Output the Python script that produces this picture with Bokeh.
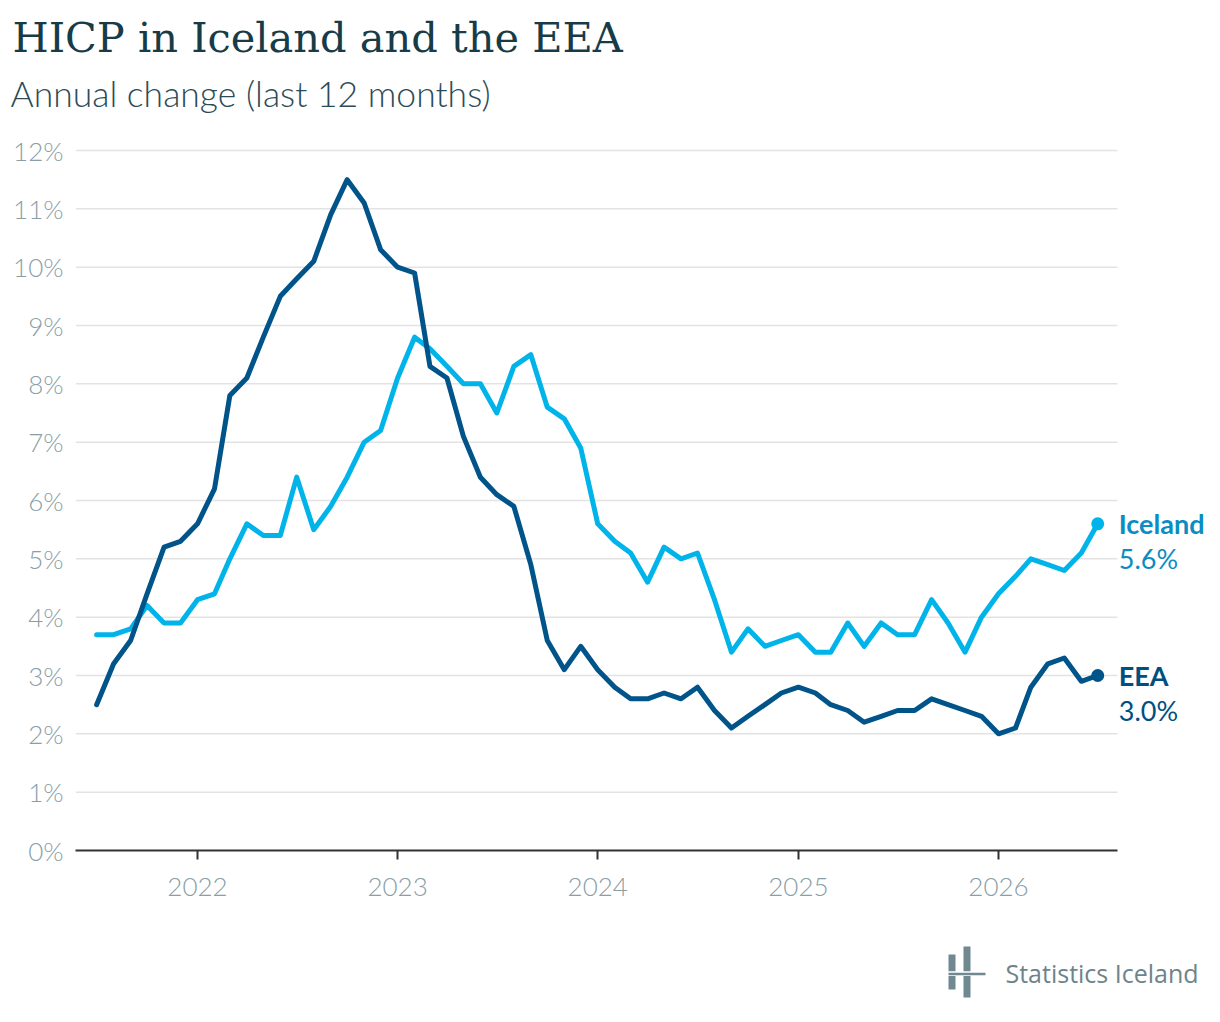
import pandas as pd
from bokeh.plotting import figure
from bokeh.layouts import column
from bokeh.models import Range1d, FixedTicker, DatetimeTickFormatter, PrintfTickFormatter
from bokeh.core.properties import value
from bokeh.embed import file_html
from bokeh.resources import INLINE

# monthly observations, July 2021 - July 2026
months = pd.date_range("2021-07-01", "2026-07-01", freq="MS")

iceland = [3.7, 3.7, 3.8, 4.2, 3.9, 3.9, 4.3, 4.4, 5.0, 5.6, 5.4, 5.4,
           6.4, 5.5, 5.9, 6.4, 7.0, 7.2, 8.1, 8.8, 8.6, 8.3, 8.0, 8.0,
           7.5, 8.3, 8.5, 7.6, 7.4, 6.9, 5.6, 5.3, 5.1, 4.6, 5.2, 5.0,
           5.1, 4.3, 3.4, 3.8, 3.5, 3.6, 3.7, 3.4, 3.4, 3.9, 3.5, 3.9,
           3.7, 3.7, 4.3, 3.9, 3.4, 4.0, 4.4, 4.7, 5.0, 4.9, 4.8, 5.1,
           5.6]

eea = [2.5, 3.2, 3.6, 4.4, 5.2, 5.3, 5.6, 6.2, 7.8, 8.1, 8.8, 9.5,
       9.8, 10.1, 10.9, 11.5, 11.1, 10.3, 10.0, 9.9, 8.3, 8.1, 7.1, 6.4,
       6.1, 5.9, 4.9, 3.6, 3.1, 3.5, 3.1, 2.8, 2.6, 2.6, 2.7, 2.6,
       2.8, 2.4, 2.1, 2.3, 2.5, 2.7, 2.8, 2.7, 2.5, 2.4, 2.2, 2.3,
       2.4, 2.4, 2.6, 2.5, 2.4, 2.3, 2.0, 2.1, 2.8, 3.2, 3.3, 2.9,
       3.0]

year_ticks = [2022, 2023, 2024, 2025, 2026]
pct_ticks = list(range(0, 13))

TITLE = "HICP in Iceland and the EEA"
SUBTITLE = "Annual change (last 12 months)"
SOURCE = "Statistics Iceland"

ICE = "#00b4ea"
ICE_TXT = "#0a8dc2"
EEA = "#00548a"
EEA_TXT = "#004f80"
TICK_TXT = "#8a9ea6"
GRID = "#e3e3e3"

W = 1218

# horizontal scale: 2022-01-01 sits at x=197, 801 px for 4 years
PX_PER_DAY = 801 / 1461
jan22 = pd.Timestamp("2022-01-01")
x_start = jan22 - pd.Timedelta(days=(197 - 75) / PX_PER_DAY)
x_end = jan22 + pd.Timedelta(days=(W - 197) / PX_PER_DAY)
grid_end = jan22 + pd.Timedelta(days=(1117 - 197) / PX_PER_DAY)


def blank(height, y0, y1):
    # a bare canvas whose data units are page pixels
    f = figure(width=W, height=height, x_range=Range1d(0, W), y_range=Range1d(y0, y1),
               x_axis_location=None, y_axis_location=None, title=None,
               toolbar_location=None, tools="", output_backend="svg",
               min_border=0, frame_align=False)
    f.grid.visible = False
    f.outline_line_color = None
    return f


# header
head = blank(120, 120, 0)
head.text(x=[12], y=[37], text=[TITLE], text_font=value("DejaVu Serif"),
          text_font_size="41.5px", text_color="#173c48", text_baseline="middle")
head.text(x=[10], y=[93], text=[SUBTITLE], text_font=value("Lato Light"),
          text_font_size="35.5px", text_color="#2b4b57", text_baseline="middle")

# main chart
p = figure(
    width=W, height=800,
    x_axis_type="datetime",
    x_range=Range1d(x_start, x_end),
    y_range=Range1d(0, 710 / 58.333),
    toolbar_location=None, tools="",
    output_backend="svg",
    min_border_left=75, min_border_right=0,
    min_border_top=20, min_border_bottom=70,
)
p.outline_line_color = None
p.grid.visible = False

p.segment(x0=[x_start] * len(pct_ticks), y0=pct_ticks,
          x1=[grid_end] * len(pct_ticks), y1=pct_ticks,
          line_color=GRID, line_width=1.5, level="underlay")

p.yaxis.ticker = FixedTicker(ticks=pct_ticks)
p.yaxis.formatter = PrintfTickFormatter(format="%d%%")
p.yaxis.axis_line_color = None
p.yaxis.major_tick_line_color = None
p.yaxis.major_tick_out = 0
p.yaxis.major_tick_in = 0
p.yaxis.minor_tick_line_color = None
p.yaxis.major_label_standoff = 12
p.yaxis.major_label_text_font = "Lato Light"
p.yaxis.major_label_text_font_size = "26px"
p.yaxis.major_label_text_color = TICK_TXT

p.xaxis.ticker = FixedTicker(ticks=[pd.Timestamp(f"{y}-01-01").timestamp() * 1000 for y in year_ticks])
p.xaxis.formatter = DatetimeTickFormatter(days="%Y", months="%Y", years="%Y")
p.xaxis.bounds = (x_start, grid_end)
p.xaxis.axis_line_color = "#333333"
p.xaxis.axis_line_width = 2
p.xaxis.major_tick_line_color = "#333333"
p.xaxis.major_tick_line_width = 2
p.xaxis.major_tick_in = 0
p.xaxis.major_tick_out = 9
p.xaxis.minor_tick_line_color = None
p.xaxis.major_label_standoff = 18
p.xaxis.major_label_text_font = "Lato Light"
p.xaxis.major_label_text_font_size = "26px"
p.xaxis.major_label_text_color = TICK_TXT

p.line(months, iceland, line_color=ICE, line_width=5, line_join="round", line_cap="round")
p.line(months, eea, line_color=EEA, line_width=5, line_join="round", line_cap="round")
p.scatter([months[-1]], [iceland[-1]], size=13, fill_color=ICE, line_color=None)
p.scatter([months[-1]], [eea[-1]], size=13, fill_color=EEA, line_color=None)

for name, vals, col in [("Iceland", iceland, ICE_TXT), ("EEA", eea, EEA_TXT)]:
    p.text(x=[months[-1]], y=[vals[-1]], text=[name], x_offset=21,
           text_baseline="middle", text_font=value("Lato"), text_font_style="bold",
           text_font_size="27px", text_color=col)
    p.text(x=[months[-1]], y=[vals[-1]], text=[f"{vals[-1]:.1f}%"], x_offset=21, y_offset=35,
           text_baseline="middle", text_font=value("Lato"),
           text_font_size="27px", text_color=col)

# footer with logo
foot = blank(100, 1020, 920)
foot.quad(left=[948, 948, 963, 963, 948], right=[955, 955, 970, 970, 985],
          top=[954, 975.5, 946, 975.5, 972.3], bottom=[970.7, 989, 970.7, 997, 974.7],
          fill_color="#708890", line_color=None)
foot.text(x=[1005], y=[972], text=[SOURCE], text_font=value("Open Sans"),
          text_font_size="25px", text_color="#6e848b", text_baseline="middle")

open("out.html", "w").write(file_html(column(head, p, foot), INLINE))
